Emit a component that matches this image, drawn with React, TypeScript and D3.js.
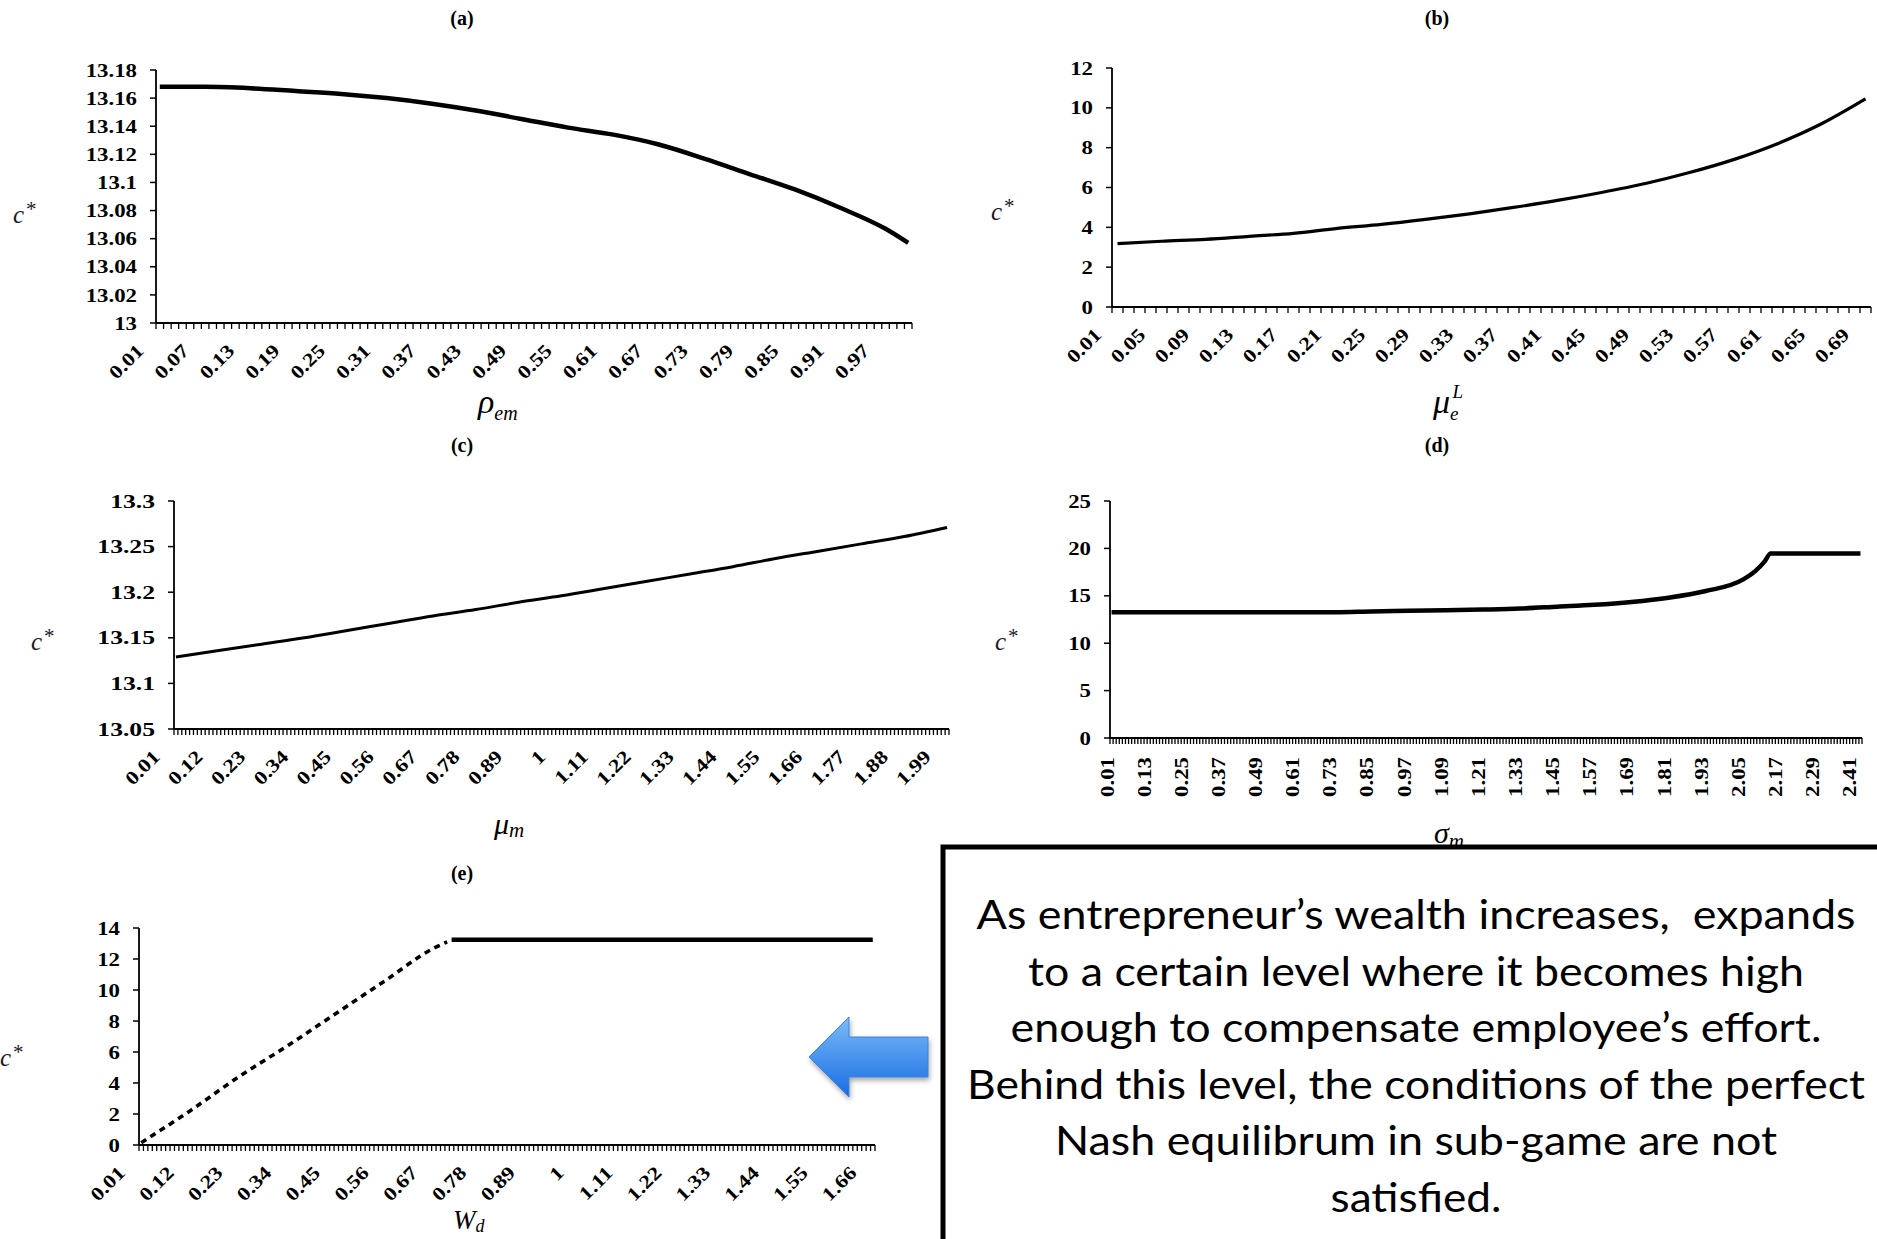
import React from 'react'
import * as d3 from 'd3'

const SERIF = '"Liberation Serif", "Times New Roman", serif'
const SANS = 'Lato, "Open Sans", "Noto Sans", sans-serif'

// (a) c* against rho_em
const rhoTickLabels = ['0.01', '0.07', '0.13', '0.19', '0.25', '0.31', '0.37', '0.43', '0.49', '0.55', '0.61', '0.67', '0.73', '0.79', '0.85', '0.91', '0.97']
const rhoX = [0.01, 0.07, 0.13, 0.19, 0.25, 0.31, 0.37, 0.43, 0.49, 0.55, 0.61, 0.67, 0.73, 0.79, 0.85, 0.91, 0.97, 1.0]
const rhoC = [13.168, 13.168, 13.167, 13.165, 13.163, 13.16, 13.156, 13.151, 13.145, 13.139, 13.134, 13.127, 13.117, 13.106, 13.095, 13.082, 13.067, 13.057]
const rhoYTicks = [13, 13.02, 13.04, 13.06, 13.08, 13.1, 13.12, 13.14, 13.16, 13.18]

// (b) c* against mu_e^L
const muLTickLabels = ['0.01', '0.05', '0.09', '0.13', '0.17', '0.21', '0.25', '0.29', '0.33', '0.37', '0.41', '0.45', '0.49', '0.53', '0.57', '0.61', '0.65', '0.69']
const muLX = [0.01, 0.05, 0.09, 0.13, 0.17, 0.21, 0.25, 0.29, 0.33, 0.37, 0.41, 0.45, 0.49, 0.53, 0.57, 0.61, 0.65, 0.69]
const muLC = [3.18, 3.3, 3.4, 3.55, 3.7, 3.95, 4.15, 4.4, 4.68, 5.0, 5.35, 5.75, 6.2, 6.75, 7.4, 8.2, 9.2, 10.45]
const muLYTicks = [0, 2, 4, 6, 8, 10, 12]

// (c) c* against mu_m
const muMTickLabels = ['0.01', '0.12', '0.23', '0.34', '0.45', '0.56', '0.67', '0.78', '0.89', '1', '1.11', '1.22', '1.33', '1.44', '1.55', '1.66', '1.77', '1.88', '1.99']
const muMX = [0.01, 0.12, 0.23, 0.34, 0.45, 0.56, 0.67, 0.78, 0.89, 1, 1.11, 1.22, 1.33, 1.44, 1.55, 1.66, 1.77, 1.88, 1.99]
const muMC = [13.129, 13.136, 13.143, 13.15, 13.158, 13.166, 13.174, 13.181, 13.189, 13.196, 13.204, 13.212, 13.22, 13.228, 13.237, 13.245, 13.253, 13.261, 13.271]
const muMYTicks = [13.05, 13.1, 13.15, 13.2, 13.25, 13.3]

// (d) c* against sigma_m
const sigTickLabels = ['0.01', '0.13', '0.25', '0.37', '0.49', '0.61', '0.73', '0.85', '0.97', '1.09', '1.21', '1.33', '1.45', '1.57', '1.69', '1.81', '1.93', '2.05', '2.17', '2.29', '2.41']
const sigX = [0.01, 0.13, 0.25, 0.37, 0.49, 0.61, 0.73, 0.85, 0.97, 1.09, 1.21, 1.33, 1.45, 1.57, 1.69, 1.81, 1.93, 2.05, 2.09, 2.12, 2.14, 2.17, 2.29, 2.43]
const sigC = [13.27, 13.27, 13.27, 13.27, 13.27, 13.27, 13.27, 13.35, 13.42, 13.48, 13.55, 13.65, 13.85, 14.05, 14.35, 14.8, 15.5, 16.7, 17.6, 18.6, 19.45, 19.45, 19.45, 19.45]
const sigYTicks = [0, 5, 10, 15, 20, 25]

// (e) c* against W_d
const wTickLabels = ['0.01', '0.12', '0.23', '0.34', '0.45', '0.56', '0.67', '0.78', '0.89', '1', '1.11', '1.22', '1.33', '1.44', '1.55', '1.66']
const wDashX = [0.01, 0.12, 0.23, 0.34, 0.45, 0.56, 0.67, 0.7]
const wDashC = [0.15, 2.2, 4.4, 6.4, 8.5, 10.6, 12.7, 13.1]
const wSolidX = [0.71, 1.66]
const wSolidC = [13.25, 13.25]
const wYTicks = [0, 2, 4, 6, 8, 10, 12, 14]

const noteLines = [
  'As entrepreneur\u2019s wealth increases,  expands',
  'to a certain level where it becomes high',
  'enough to compensate employee\u2019s effort.',
  'Behind this level, the conditions of the perfect',
  'Nash equilibrum in sub-game are not',
  'satisfied.',
]
const noteWidths = [879, 776, 811, 898, 722, 171]

type LineSeries = { xs: number[]; ys: number[]; width: number; dash?: string }

interface PanelProps {
  left: number
  right: number
  top: number
  bottom: number
  first: number
  last: number
  step: number
  yDomain: [number, number]
  yTicks: number[]
  xLabels: string[]
  vertical?: boolean
  yStretch?: number
  series: LineSeries[]
}

function Panel({ left, right, top, bottom, first, last, step, yDomain, yTicks, xLabels, vertical, yStretch = 1.2, series }: PanelProps) {
  const x = d3.scaleLinear().domain([first - step / 2, last + step / 2]).range([left, right])
  const y = d3.scaleLinear().domain(yDomain).range([bottom, top])
  const n = Math.round((last - first) / step) + 1
  const bounds = d3.range(n + 1).map(k => first - step / 2 + k * step)
  const line = d3.line<[number, number]>()
    .x(d => x(d[0]))
    .y(d => y(d[1]))
    .curve(d3.curveMonotoneX)

  return (
    <g>
      {/* axes */}
      <line x1={left} x2={left} y1={top} y2={bottom} stroke="#000" strokeWidth={1.8} />
      <line x1={left} x2={right} y1={bottom} y2={bottom} stroke="#000" strokeWidth={2} />
      {yTicks.map(v => (
        <g key={'y' + v}>
          <line x1={left - 6} x2={left} y1={y(v)} y2={y(v)} stroke="#000" strokeWidth={1.5} />
          <text
            transform={`translate(${left - 19},${y(v)}) scale(${yStretch},1)`}
            textAnchor="end"
            dy="0.35em"
            fontFamily={SERIF}
            fontWeight="bold"
            fontSize={19}
          >
            {String(v)}
          </text>
        </g>
      ))}
      {bounds.map((b, i) => (
        <line key={'t' + i} x1={x(b)} x2={x(b)} y1={bottom} y2={bottom + 6} stroke="#000" strokeWidth={1.3} />
      ))}
      {xLabels.map(lab => {
        const cx = x(parseFloat(lab))
        const tr = vertical
          ? `translate(${cx + 2},${bottom + 19}) rotate(-90) scale(1.2,1)`
          : `translate(${cx - 15},${bottom + 29}) rotate(-45) scale(1.2,1)`
        return (
          <text key={'x' + lab} transform={tr} textAnchor="end" fontFamily={SERIF} fontWeight="bold" fontSize={19}>
            {lab}
          </text>
        )
      })}
      {series.map((s, i) => (
        <path
          key={'s' + i}
          d={line(s.xs.map((v, j) => [v, s.ys[j]] as [number, number])) || ''}
          fill="none"
          stroke="#000"
          strokeWidth={s.width}
          strokeDasharray={s.dash}
          strokeLinejoin="round"
        />
      ))}
    </g>
  )
}

function Title({ x, y, text }: { x: number; y: number; text: string }) {
  return (
    <text x={x} y={y} textAnchor="middle" fontFamily={SERIF} fontWeight="bold" fontSize={20}>
      {text}
    </text>
  )
}

function CStar({ x, y }: { x: number; y: number }) {
  return (
    <text x={x} y={y} fontFamily={SERIF} fontStyle="italic" fontSize={25} fill="#1a1a2a">
      c<tspan dy={-7} dx={1} fontSize={21}>*</tspan>
    </text>
  )
}

export default function App() {
  return (
    <svg
      width={1877}
      height={1239}
      viewBox="0 0 1877 1239"
      style={{ position: 'absolute', left: 0, top: 0, display: 'block', background: '#fff' }}
    >
      <defs>
        <linearGradient id="arrowGrad" x1="0" y1="0" x2="0" y2="1">
          <stop offset="0" stopColor="#7dbaf8" />
          <stop offset="0.5" stopColor="#4893ee" />
          <stop offset="1" stopColor="#1a6de4" />
        </linearGradient>
        <filter id="shadow" x="-20%" y="-20%" width="140%" height="150%">
          <feDropShadow dx="1" dy="3" stdDeviation="2.5" floodColor="#000" floodOpacity="0.35" />
        </filter>
      </defs>
      <rect x={0} y={0} width={1877} height={1239} fill="#fff" />

      {/* (a) */}
      <Title x={462} y={25} text="(a)" />
      <CStar x={13} y={223} />
      <Panel
        left={156} right={912} top={70} bottom={323}
        first={0.01} last={1.0} step={0.01}
        yDomain={[13, 13.18]} yTicks={rhoYTicks} xLabels={rhoTickLabels}
        series={[{ xs: rhoX, ys: rhoC, width: 4.5 }]}
      />
      <text x={478} y={413} fontFamily={SERIF} fontStyle="italic" fontSize={34}>
        ρ<tspan dy={7} fontSize={20}>em</tspan>
      </text>

      {/* (b) */}
      <Title x={1437} y={25} text="(b)" />
      <CStar x={991} y={220} />
      <Panel
        left={1112} right={1871} top={68} bottom={307}
        first={0.01} last={0.69} step={0.01}
        yDomain={[0, 12]} yTicks={muLYTicks} xLabels={muLTickLabels}
        series={[{ xs: muLX, ys: muLC, width: 3.2 }]}
      />
      <text x={1433} y={413} fontFamily={SERIF} fontStyle="italic" fontSize={34}>
        μ<tspan dy={7} fontSize={19}>e</tspan>
        <tspan dx={-6} dy={-22} fontSize={19}>L</tspan>
      </text>

      {/* (c) */}
      <Title x={462} y={452} text="(c)" />
      <CStar x={31} y={650} />
      <Panel
        left={174} right={949} top={501} bottom={729}
        first={0.01} last={1.99} step={0.01}
        yDomain={[13.05, 13.3]} yTicks={muMYTicks} xLabels={muMTickLabels} yStretch={1.35}
        series={[{ xs: muMX, ys: muMC, width: 3 }]}
      />
      <text x={494} y={834} fontFamily={SERIF} fontStyle="italic" fontSize={30}>
        μ<tspan dy={3} fontSize={21}>m</tspan>
      </text>

      {/* (d) */}
      <Title x={1437} y={452} text="(d)" />
      <CStar x={995} y={650} />
      <Panel
        left={1110} right={1862} top={501} bottom={738}
        first={0.01} last={2.43} step={0.01}
        yDomain={[0, 25]} yTicks={sigYTicks} xLabels={sigTickLabels} vertical
        series={[{ xs: sigX, ys: sigC, width: 4.5 }]}
      />
      <text x={1434} y={843} fontFamily={SERIF} fontStyle="italic" fontSize={30}>
        σ<tspan dy={5} fontSize={21}>m</tspan>
      </text>

      {/* (e) */}
      <Title x={462} y={880} text="(e)" />
      <CStar x={0} y={1066} />
      <Panel
        left={139} right={875} top={928} bottom={1145}
        first={0.01} last={1.66} step={0.01}
        yDomain={[0, 14]} yTicks={wYTicks} xLabels={wTickLabels}
        series={[
          { xs: wDashX, ys: wDashC, width: 3.6, dash: '6,5' },
          { xs: wSolidX, ys: wSolidC, width: 4.5 },
        ]}
      />
      <text x={453} y={1229} fontFamily={SERIF} fontStyle="italic" fontSize={27}>
        W<tspan dy={3} fontSize={18}>d</tspan>
      </text>

      {/* arrow */}
      <path
        d="M809,1057 L849,1017 L849,1037 L928,1037 L928,1077 L849,1077 L849,1097 Z"
        fill="url(#arrowGrad)"
        stroke="#3d82dc"
        strokeWidth={1}
        filter="url(#shadow)"
      />

      {/* note box */}
      <rect x={943} y={847} width={1000} height={500} fill="#fff" stroke="#000" strokeWidth={5} />
      {noteLines.map((t, i) => (
        <text
          key={i}
          x={1416}
          y={929 + i * 56.6}
          textAnchor="middle"
          fontFamily={SANS}
          fontSize={40}
          textLength={noteWidths[i]}
          lengthAdjust="spacingAndGlyphs"
          style={{ whiteSpace: 'pre' }}
        >
          {t}
        </text>
      ))}
    </svg>
  )
}
